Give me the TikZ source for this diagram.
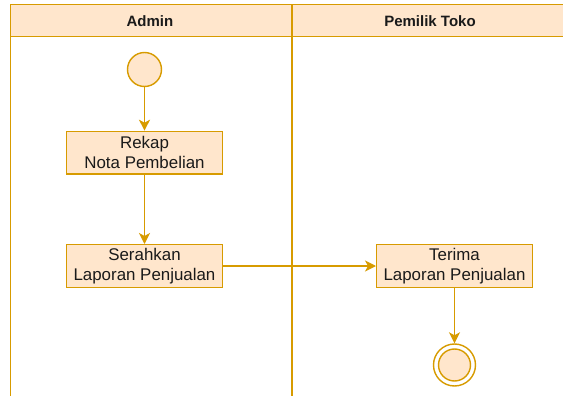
\documentclass[tikz,border=0pt]{standalone}
\usepackage{fontspec}
\setmainfont{Liberation Sans}
\usetikzlibrary{arrows.meta}
\definecolor{lineorange}{HTML}{D79B00}
\definecolor{fillpeach}{HTML}{FFE6CC}
\definecolor{txt}{HTML}{1A1A1A}
\tikzset{
  lane/.style={draw=lineorange, line width=1.6pt},
  action/.style={draw=lineorange, fill=fillpeach, line width=1.4pt,
    minimum width=155.6pt, minimum height=42.6pt, inner sep=0pt,
    align=center, text=txt, font=\fontsize{16.9}{20}\selectfont},
  startstate/.style={circle, draw=lineorange, fill=fillpeach, line width=1.4pt,
    minimum size=34pt, inner sep=0pt},
  endouter/.style={circle, draw=lineorange, fill=white, line width=1.4pt,
    minimum size=42pt, inner sep=0pt},
  endinner/.style={circle, draw=lineorange, fill=fillpeach, line width=1.4pt,
    minimum size=32pt, inner sep=0pt},
  flow/.style={draw=lineorange, line width=1.4pt,
    -{Stealth[length=11pt, width=11pt, inset=3pt]}},
  header/.style={font=\fontsize{15}{18}\selectfont\bfseries, text=txt}
}
\begin{document}
\begin{tikzpicture}[x=1pt, y=-1pt]
  \useasboundingbox (0,0) rectangle (563,396);
  \begin{scope}
    \clip (0,0) rectangle (563,396);
    % swimlane header band
    \fill[fillpeach] (10.5,4.5) rectangle (580,36.5);
    \draw[lane] (580,4.5) -- (10.5,4.5) -- (10.5,410);
    \draw[lane] (10.5,36.5) -- (580,36.5);
    \draw[lane] (292,4.5) -- (292,410);
  \end{scope}
  \node[header] (hAdmin) at (150,21) {Admin};
  \node[header] (hOwner) at (430,21) {Pemilik Toko};

  % activity nodes
  \node[startstate] (start) at (144.5,69.5) {};
  \node[action] (rekap) at (144.5,152.7) {Rekap\\Nota Pembelian};
  \node[action] (serah) at (144.5,266) {Serahkan\\Laporan Penjualan};
  \node[action] (terima) at (454.5,266) {Terima\\Laporan Penjualan};
  \node[endouter] (endo) at (454.5,365) {};
  \node[endinner] (endi) at (454.5,365) {};

  % control flow
  \draw[flow] (start) -- (rekap);
  \draw[flow] (rekap) -- (serah);
  \draw[flow] (serah) -- (terima);
  \draw[flow] (terima) -- (endo);
\end{tikzpicture}
\end{document}
